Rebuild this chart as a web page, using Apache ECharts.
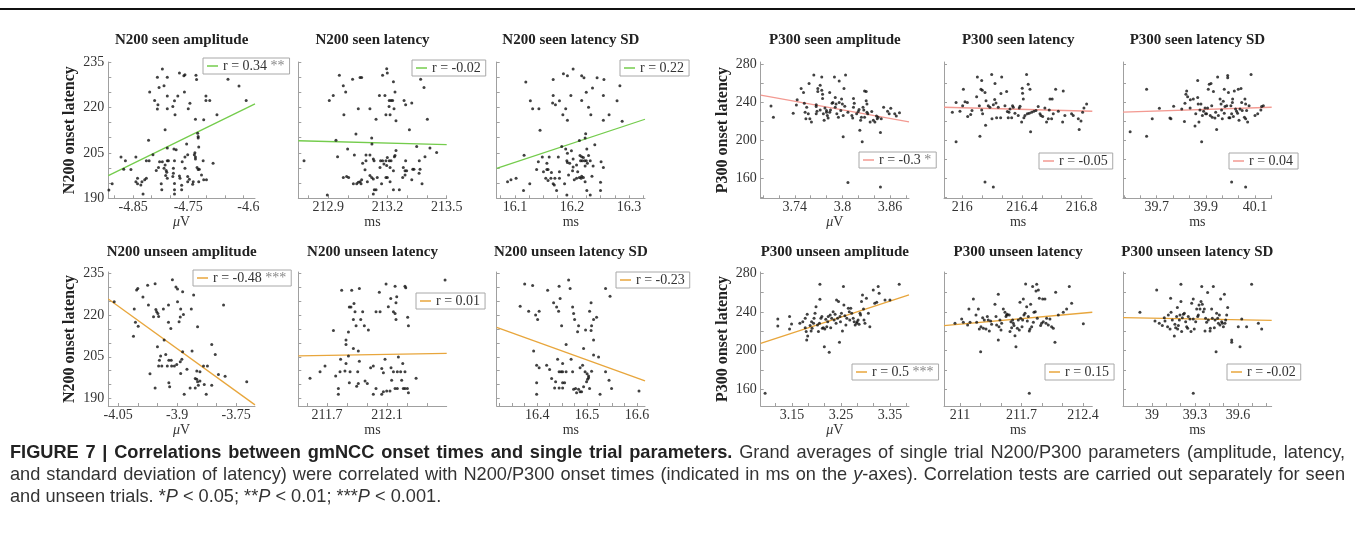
<!DOCTYPE html>
<html>
<head>
<meta charset="utf-8">
<script src="https://cdn.jsdelivr.net/npm/echarts@6/dist/echarts.min.js"></script>
<style>
html, body { margin: 0; padding: 0; background: #fff; }
#chart { width: 1355px; height: 560px; }
</style>
</head>
<body>
<div id="chart"></div>
<script>
// ---- data ----
const n200SeenAmp = [[-4.797,232.7],[-4.806,230.0],[-4.788,230.0],[-4.803,226.6],[-4.794,227.2],[-4.766,231.4],[-4.758,230.5],[-4.756,230.8],[-4.736,230.6],[-4.735,229.2],[-4.820,225.1],[-4.811,222.3],[-4.805,220.9],[-4.806,219.5],[-4.788,223.8],[-4.788,219.6],[-4.778,220.3],[-4.775,222.2],[-4.769,223.8],[-4.774,217.6],[-4.757,225.1],[-4.747,221.4],[-4.750,219.6],[-4.737,216.1],[-4.722,215.9],[-4.718,223.8],[-4.718,222.3],[-4.711,222.3],[-4.698,217.6],[-4.678,229.3],[-4.658,227.1],[-4.645,222.3],[-4.792,212.6],[-4.822,209.2],[-4.788,206.6],[-4.772,206.0],[-4.776,206.3],[-4.753,207.9],[-4.733,211.5],[-4.732,210.4],[-4.732,209.9],[-4.731,206.9],
  [-4.872,203.6],[-4.864,202.4],[-4.867,199.6],[-4.854,199.5],[-4.845,203.6],[-4.842,196.6],[-4.845,195.5],[-4.842,194.8],[-4.836,194.4],[-4.834,195.5],[-4.829,196.1],[-4.826,196.6],[-4.826,202.4],[-4.821,202.4],[-4.814,204.4],[-4.832,191.4],[-4.894,192.7],[-4.888,194.8],[-4.808,199.2],[-4.804,200.2],[-4.802,202.1],[-4.797,202.1],[-4.794,199.9],[-4.792,201.0],[-4.790,199.2],[-4.788,202.4],[-4.786,202.4],[-4.789,198.6],[-4.791,197.5],[-4.788,196.6],[-4.799,194.8],[-4.798,192.8],[-4.775,202.4],[-4.777,199.9],[-4.777,198.3],[-4.778,197.2],[-4.775,192.8],[-4.775,191.4],[-4.766,197.4],[-4.765,196.6],[-4.762,194.3],[-4.762,192.8],[-4.761,202.1],[-4.756,203.6],[-4.751,204.4],[-4.756,199.9],[-4.751,197.2],[-4.748,196.3],[-4.751,195.5],[-4.741,195.5],[-4.742,194.6],[-4.739,204.4],[-4.738,205.0],[-4.737,203.6],[-4.737,203.0],[-4.734,200.2],[-4.732,199.5],[-4.731,195.5],[-4.730,199.6],[-4.726,197.7],[-4.722,196.1],[-4.723,202.4],[-4.717,196.1],[-4.705,201.6],[-4.775,194.9]];
const n200SeenLat = [[212.956,230.6],[212.976,227.2],[212.988,225.1],[212.905,222.3],[212.925,223.9],[213.023,229.3],[213.061,229.9],[213.069,229.9],[212.979,217.6],[213.052,219.6],[213.111,219.6],[213.142,216.1],[213.159,223.9],[213.175,230.6],[213.196,232.8],[213.199,231.4],[213.187,223.9],[213.209,222.3],[213.218,222.3],[213.226,222.3],[213.230,228.5],[213.208,220.3],[213.233,219.6],[213.192,217.6],[213.213,217.6],[213.243,215.6],[213.238,225.1],[213.284,222.3],[213.292,220.9],[213.323,221.5],[213.368,229.3],[213.385,226.6],[213.402,216.1],[213.311,212.6],[213.040,211.2],[213.120,209.9],[212.939,209.2],[212.947,203.7],[212.998,206.3],[213.032,204.3],[213.091,204.3],[213.111,204.3],[213.121,207.9],[213.074,201.6],[213.091,202.4],[213.128,203.0],[213.132,202.4],[213.165,202.4],[213.175,202.4],[213.192,202.4],[213.199,203.5],[213.209,202.4],[213.218,202.4],[213.238,204.1],[213.243,205.8],[213.235,203.7],[212.777,202.4],[213.162,200.2],[213.182,201.3],[213.196,200.8],[213.213,200.2],[213.230,199.1],[213.280,200.2],[213.292,202.4],[213.289,199.1],[213.297,199.1],[213.328,199.6],[213.334,199.6],[213.361,202.4],[213.390,203.7],[213.348,207.1],[213.415,206.6],[213.449,205.1],[213.365,199.6],[213.360,198.3],[212.976,196.9],[212.993,197.2],[213.003,196.9],[213.027,194.8],[213.044,194.8],[213.052,195.3],[213.061,195.5],[213.069,196.1],[213.066,194.8],[213.086,199.4],[213.098,195.5],[213.111,197.5],[213.120,196.9],[213.128,196.4],[213.148,196.9],[213.170,194.8],[213.192,196.9],[213.199,196.9],[213.213,195.5],[213.277,196.9],[213.289,197.7],[213.323,196.1],[213.375,194.8],[212.895,191.1],[213.128,191.4],[213.133,192.8],[213.142,192.8],[213.230,192.8],[213.260,192.8]];
const n200SeenSD = [[16.119,228.4],[16.127,222.2],[16.131,219.6],[16.142,219.6],[16.144,212.5],[16.167,229.2],[16.185,231.1],[16.192,230.5],[16.167,223.9],[16.166,221.5],[16.171,220.9],[16.178,222.2],[16.184,217.6],[16.192,215.8],[16.189,219.6],[16.198,223.9],[16.202,232.7],[16.217,230.5],[16.221,229.8],[16.225,225.0],[16.217,222.3],[16.229,220.1],[16.233,217.6],[16.236,226.4],[16.244,229.8],[16.256,229.2],[16.255,223.9],[16.255,215.8],[16.265,217.6],[16.279,222.2],[16.284,227.2],[16.288,215.4],[16.224,211.3],[16.223,209.9],[16.213,209.1],[16.240,207.7],[16.182,207.1],[16.189,206.3],[16.192,204.9],[16.199,205.7],[16.116,204.2],[16.141,202.1],[16.148,203.6],[16.156,201.6],[16.160,203.6],[16.176,203.6],[16.191,202.4],[16.202,203.0],[16.214,204.1],[16.217,203.7],[16.220,203.5],[16.226,206.3],[16.229,204.1],[16.215,202.4],[16.218,202.4],[16.222,202.4],[16.225,202.4],[16.232,202.4],[16.138,199.5],[16.150,198.8],[16.156,199.5],[16.158,199.5],[16.164,198.5],[16.178,198.8],[16.192,201.8],[16.196,201.6],[16.202,200.3],[16.208,201.0],[16.210,198.8],[16.223,200.7],[16.227,201.6],[16.237,200.7],[16.251,202.1],[16.255,200.2],[16.087,195.5],[16.093,196.1],[16.102,196.6],[16.126,194.8],[16.115,192.6],[16.154,196.6],[16.158,195.9],[16.163,196.6],[16.167,194.8],[16.169,194.4],[16.170,196.6],[16.173,192.6],[16.178,196.6],[16.187,194.8],[16.191,191.1],[16.204,196.1],[16.208,196.6],[16.213,196.9],[16.216,196.6],[16.217,197.3],[16.223,195.5],[16.226,192.6],[16.232,191.1],[16.235,197.3],[16.250,195.3],[16.250,192.6],[16.220,196.9],[16.194,197.7],[16.201,199.1]];
const p300SeenAmp = [[3.710,236.6],[3.713,224.8],[3.738,229.0],[3.742,237.6],[3.743,243.1],[3.748,254.8],[3.751,250.7],[3.752,239.3],[3.755,235.2],[3.753,230.0],[3.754,223.1],[3.758,260.3],[3.761,219.7],[3.764,269.0],[3.767,228.3],[3.767,237.9],[3.767,235.9],[3.768,231.0],[3.769,254.8],[3.769,251.7],[3.772,258.3],[3.774,266.9],[3.774,253.1],[3.775,249.0],[3.775,244.5],[3.776,228.3],[3.777,221.4],[3.778,234.5],[3.780,231.7],[3.781,226.6],[3.782,223.8],[3.784,230.0],[3.785,232.4],[3.787,239.3],[3.788,240.3],[3.790,266.9],[3.791,235.2],[3.791,245.5],[3.792,238.6],[3.793,228.3],[3.795,224.8],[3.796,262.8],[3.796,240.3],[3.798,231.7],[3.799,243.8],[3.800,238.6],[3.801,226.6],[3.802,254.8],[3.803,236.2],[3.804,269.0],[3.801,204.1],[3.807,230.0],[3.812,226.6],[3.813,223.8],[3.814,244.5],[3.815,239.3],[3.818,228.3],[3.820,230.7],[3.821,232.8],[3.822,211.0],[3.823,221.4],[3.824,224.8],[3.825,199.0],[3.826,235.2],[3.827,232.4],[3.828,224.8],[3.828,252.4],[3.830,251.7],[3.830,242.1],[3.831,230.0],[3.831,238.6],[3.832,228.3],[3.835,219.7],[3.837,230.7],[3.839,221.4],[3.841,219.7],[3.844,223.1],[3.845,224.8],[3.848,208.6],[3.849,223.1],[3.852,235.2],[3.857,231.0],[3.859,228.3],[3.861,234.1],[3.866,228.3],[3.868,225.9],[3.872,229.3],[3.807,155.9],[3.848,151.4],[3.843,225.9],[3.814,235.2],[3.784,250.7],[3.780,230.0],[3.772,232.4],[3.759,223.1],[3.757,228.3]];
const p300SeenLat = [[215.933,230.0],[215.958,199.0],[215.958,240.3],[215.984,231.0],[216.002,236.9],[216.007,254.1],[216.018,241.0],[216.034,240.3],[216.036,225.5],[216.056,227.6],[216.065,231.7],[216.096,246.2],[216.101,266.9],[216.114,236.9],[216.118,204.8],[216.125,254.1],[216.130,263.4],[216.130,232.4],[216.136,228.3],[216.152,250.7],[216.156,216.2],[216.159,242.1],[216.174,236.9],[216.185,235.2],[216.197,269.7],[216.199,223.1],[216.208,237.9],[216.217,243.4],[216.219,260.3],[216.226,239.7],[216.230,224.1],[216.241,235.2],[216.257,224.1],[216.259,249.7],[216.264,266.9],[216.286,236.9],[216.297,251.7],[216.302,230.7],[216.308,224.1],[216.313,230.0],[216.320,233.4],[216.331,224.1],[216.337,236.9],[216.342,235.2],[216.353,229.0],[216.375,226.6],[216.382,234.5],[216.387,236.2],[216.398,219.7],[216.402,255.2],[216.404,250.0],[216.409,243.8],[216.413,224.1],[216.420,226.6],[216.431,269.7],[216.436,228.3],[216.442,259.3],[216.449,229.0],[216.454,254.1],[216.458,209.3],[216.465,230.0],[216.480,231.0],[216.494,231.7],[216.509,235.9],[216.521,228.3],[216.527,226.6],[216.539,225.5],[216.554,234.5],[216.565,219.7],[216.577,223.1],[216.583,232.4],[216.588,243.8],[216.599,223.1],[216.603,243.8],[216.610,228.3],[216.626,254.1],[216.644,231.0],[216.673,219.7],[216.677,252.4],[216.688,226.6],[216.733,228.3],[216.744,226.6],[216.778,223.1],[216.784,211.7],[216.796,220.7],[216.807,230.0],[216.816,234.5],[216.834,238.6],[216.152,156.6],[216.208,151.4],[216.134,253.1]];
const p300SeenSD = [[39.592,209.3],[39.659,254.1],[39.659,204.8],[39.682,223.1],[39.711,234.1],[39.754,223.8],[39.758,223.1],[39.769,236.2],[39.802,233.4],[39.813,220.3],[39.815,239.3],[39.819,249.0],[39.822,252.4],[39.826,246.2],[39.836,234.5],[39.837,243.1],[39.849,243.8],[39.856,215.5],[39.859,228.3],[39.867,263.4],[39.867,245.5],[39.869,238.6],[39.872,219.7],[39.876,232.4],[39.880,238.6],[39.883,199.0],[39.886,226.6],[39.891,231.0],[39.897,234.5],[39.899,228.3],[39.903,228.3],[39.907,234.5],[39.910,254.1],[39.914,259.3],[39.918,226.6],[39.921,260.3],[39.924,236.9],[39.926,224.8],[39.931,251.7],[39.937,223.8],[39.940,230.0],[39.944,211.7],[39.948,266.9],[39.951,226.6],[39.958,243.8],[39.962,238.6],[39.964,232.4],[39.967,223.1],[39.971,241.4],[39.975,229.0],[39.978,235.9],[39.985,236.9],[39.989,268.6],[39.989,266.2],[39.992,250.7],[39.994,224.1],[39.998,224.1],[40.002,236.9],[40.005,228.3],[40.008,240.3],[40.009,243.8],[40.012,225.5],[40.016,252.4],[40.021,233.4],[40.025,231.0],[40.029,229.0],[40.032,254.1],[40.035,221.4],[40.039,233.4],[40.043,254.8],[40.046,240.3],[40.048,231.7],[40.057,224.8],[40.059,243.8],[40.062,238.6],[40.062,223.1],[40.066,231.7],[40.070,219.7],[40.076,236.9],[40.084,269.7],[40.100,226.6],[40.111,228.3],[40.124,232.4],[40.127,235.9],[40.134,236.9],[40.005,156.6],[40.062,151.4],[39.975,254.1]];
const n200UnseenAmp = [[-4.060,224.8],[-4.011,212.4],[-4.009,222.2],[-4.006,217.4],[-3.999,216.0],[-4.000,229.6],[-4.003,229.0],[-3.987,226.5],[-3.975,230.7],[-3.973,223.6],[-3.956,231.3],[-3.954,222.0],[-3.952,221.2],[-3.949,220.6],[-3.960,219.4],[-3.947,219.5],[-3.935,222.2],[-3.922,223.6],[-3.922,217.4],[-3.916,215.2],[-3.912,232.7],[-3.903,230.1],[-3.899,229.4],[-3.899,224.8],[-3.895,217.6],[-3.892,219.3],[-3.891,222.2],[-3.884,220.2],[-3.886,228.4],[-3.864,222.2],[-3.858,227.2],[-3.848,215.8],[-3.950,208.6],[-3.933,211.0],[-3.942,205.3],[-3.945,203.8],[-3.947,201.7],[-3.939,201.7],[-3.929,205.8],[-3.925,201.7],[-3.921,203.8],[-3.915,203.8],[-3.914,201.7],[-3.907,201.7],[-3.901,202.2],[-3.892,203.2],[-3.888,204.1],[-3.886,206.8],[-3.875,200.5],[-3.862,207.1],[-3.850,199.9],[-3.854,197.2],[-3.850,196.9],[-3.848,196.0],[-3.842,199.6],[-3.833,201.7],[-3.823,201.7],[-3.812,209.4],[-3.803,205.8],[-3.795,198.6],[-3.778,198.0],[-3.782,223.6],[-3.723,196.0],[-3.969,198.9],[-3.956,193.8],[-3.921,195.7],[-3.919,194.2],[-3.891,199.0],[-3.882,191.5],[-3.867,193.8],[-3.854,193.8],[-3.846,194.8],[-3.842,196.3],[-3.831,195.0],[-3.812,194.8],[-3.826,191.5]];
const n200UnseenLat = [[212.487,232.6],[211.798,228.9],[211.865,228.9],[211.916,229.6],[212.049,228.2],[212.094,231.2],[212.154,230.4],[212.220,230.4],[212.225,229.8],[212.125,226.0],[212.165,226.6],[212.160,224.4],[211.849,222.9],[211.860,222.9],[211.880,224.2],[211.887,221.2],[211.938,221.2],[212.027,221.2],[212.054,221.2],[212.109,223.0],[212.143,221.2],[212.154,220.6],[212.160,218.4],[211.876,218.4],[211.925,218.4],[211.894,216.2],[211.949,216.2],[211.976,214.6],[211.743,214.5],[211.843,213.9],[212.238,219.2],[212.243,216.2],[211.827,211.0],[211.827,209.4],[211.876,208.0],[211.909,207.1],[211.843,205.3],[211.791,204.1],[211.827,202.6],[211.687,201.7],[211.654,199.6],[211.758,198.1],[211.787,199.6],[211.820,199.9],[211.854,199.6],[211.905,199.6],[211.916,203.4],[211.991,201.1],[212.009,201.7],[212.087,204.1],[212.065,200.8],[212.076,199.3],[212.127,201.1],[212.143,199.6],[212.169,199.6],[212.191,199.6],[212.220,199.6],[212.176,204.9],[212.205,202.6],[212.294,197.3],[211.587,197.3],[211.849,195.7],[211.898,194.4],[211.909,195.4],[211.954,196.3],[211.969,195.4],[211.776,193.6],[212.027,193.6],[212.065,191.5],[212.076,192.4],[212.098,192.7],[212.120,192.7],[212.131,196.6],[212.154,193.6],[212.169,193.6],[212.198,196.6],[212.209,193.6],[212.220,193.6],[212.236,193.6],[212.243,192.1],[211.776,191.5],[212.009,191.5]];
const n200UnseenSD = [[16.375,231.2],[16.391,230.6],[16.366,223.2],[16.383,221.4],[16.397,220.0],[16.404,221.4],[16.401,218.4],[16.421,228.9],[16.433,224.4],[16.439,222.9],[16.443,221.4],[16.444,230.4],[16.446,226.0],[16.449,216.2],[16.463,232.6],[16.466,229.6],[16.471,222.9],[16.473,220.6],[16.475,218.4],[16.483,216.2],[16.481,214.0],[16.497,214.6],[16.508,224.4],[16.505,221.4],[16.508,214.5],[16.509,216.2],[16.513,218.4],[16.519,219.2],[16.513,211.0],[16.537,229.6],[16.546,226.8],[16.458,209.4],[16.493,208.0],[16.393,207.1],[16.399,202.0],[16.404,201.1],[16.419,202.0],[16.425,200.4],[16.441,204.1],[16.444,199.6],[16.448,199.6],[16.451,199.6],[16.458,199.6],[16.471,199.6],[16.451,202.6],[16.468,204.1],[16.486,201.1],[16.491,202.0],[16.496,199.6],[16.500,198.9],[16.503,198.1],[16.503,197.5],[16.509,199.8],[16.513,205.6],[16.523,204.9],[16.537,199.6],[16.544,196.6],[16.429,197.2],[16.437,196.0],[16.451,195.7],[16.455,195.7],[16.435,193.8],[16.444,193.8],[16.451,193.8],[16.473,193.3],[16.477,193.6],[16.486,192.4],[16.489,192.4],[16.493,194.2],[16.499,196.0],[16.501,196.9],[16.505,193.6],[16.549,193.6],[16.604,192.7],[16.399,195.7],[16.483,193.3],[16.479,192.1],[16.526,191.5],[16.399,191.5]];
const p300UnseenAmp = [[3.121,232.8],[3.121,225.5],[3.145,235.2],[3.145,222.4],[3.149,227.6],[3.166,228.3],[3.172,230.0],[3.177,233.4],[3.177,223.8],[3.179,219.7],[3.180,211.0],[3.181,237.6],[3.182,215.2],[3.187,225.9],[3.189,220.3],[3.190,230.0],[3.191,223.1],[3.194,228.3],[3.195,233.4],[3.197,238.6],[3.199,245.5],[3.202,226.6],[3.204,219.7],[3.206,228.3],[3.207,268.6],[3.207,253.1],[3.209,233.4],[3.211,235.2],[3.212,223.1],[3.214,223.8],[3.216,204.1],[3.217,222.4],[3.219,232.4],[3.221,224.8],[3.223,230.0],[3.224,235.2],[3.226,198.3],[3.228,236.9],[3.229,223.8],[3.231,233.4],[3.234,240.3],[3.236,231.7],[3.238,237.6],[3.240,228.3],[3.241,252.4],[3.243,233.4],[3.245,250.7],[3.247,208.6],[3.248,235.2],[3.249,230.0],[3.251,238.6],[3.253,220.3],[3.255,266.2],[3.256,247.2],[3.258,236.2],[3.260,226.6],[3.262,233.4],[3.265,243.8],[3.267,240.3],[3.268,231.7],[3.270,243.8],[3.272,238.6],[3.275,233.4],[3.277,230.0],[3.279,226.6],[3.282,228.3],[3.283,230.0],[3.285,231.7],[3.287,227.2],[3.289,238.6],[3.290,236.9],[3.292,250.7],[3.294,257.6],[3.296,243.1],[3.297,231.7],[3.299,228.3],[3.302,254.1],[3.306,238.6],[3.309,224.8],[3.316,262.8],[3.319,249.0],[3.323,250.0],[3.326,266.2],[3.328,259.3],[3.340,252.4],[3.350,252.4],[3.369,268.6],[3.095,155.9]];
const p300UnseenLat = [[210.943,228.3],[211.019,232.8],[211.038,229.3],[211.087,226.6],[211.102,243.1],[211.114,229.3],[211.152,253.4],[211.182,236.9],[211.190,229.3],[211.209,243.1],[211.220,222.4],[211.235,199.0],[211.239,224.8],[211.258,234.1],[211.266,223.1],[211.277,231.7],[211.296,222.4],[211.311,235.2],[211.322,231.7],[211.334,220.3],[211.349,230.7],[211.360,227.2],[211.398,247.9],[211.410,235.2],[211.417,226.6],[211.436,258.3],[211.436,211.0],[211.444,224.8],[211.455,231.7],[211.467,221.4],[211.474,228.3],[211.493,243.1],[211.512,239.7],[211.524,235.2],[211.531,236.9],[211.539,237.6],[211.561,236.9],[211.569,219.7],[211.580,230.0],[211.588,223.8],[211.599,231.7],[211.607,228.3],[211.615,225.9],[211.626,215.5],[211.637,204.1],[211.653,223.1],[211.664,231.7],[211.675,221.4],[211.683,250.0],[211.690,233.4],[211.706,224.8],[211.713,231.7],[211.721,253.4],[211.728,236.9],[211.740,238.6],[211.747,269.0],[211.759,245.5],[211.766,230.7],[211.778,235.2],[211.789,220.3],[211.797,222.4],[211.804,247.9],[211.816,224.8],[211.827,266.2],[211.835,229.3],[211.842,239.7],[211.857,240.3],[211.865,261.7],[211.873,268.6],[211.880,233.4],[211.892,262.8],[211.903,254.1],[211.918,225.9],[211.929,228.3],[211.941,253.4],[211.948,230.0],[211.967,253.4],[211.979,228.3],[211.986,233.4],[212.005,226.6],[212.024,232.8],[212.043,224.8],[212.062,223.1],[212.081,208.6],[212.089,260.3],[212.119,236.9],[212.176,239.7],[212.214,243.1],[212.244,266.2],[212.271,249.0],[212.404,227.9],[211.789,155.9]];
const p300UnseenSD = [[38.916,239.7],[39.033,262.8],[39.021,230.7],[39.051,228.3],[39.072,225.9],[39.086,234.1],[39.091,230.7],[39.109,224.8],[39.114,236.9],[39.126,222.4],[39.130,254.1],[39.133,239.7],[39.142,231.7],[39.156,215.2],[39.160,227.2],[39.165,223.8],[39.172,235.2],[39.177,244.5],[39.179,222.4],[39.184,225.9],[39.191,231.7],[39.195,236.9],[39.202,250.7],[39.202,268.6],[39.207,219.7],[39.212,234.1],[39.219,237.6],[39.226,238.6],[39.235,230.0],[39.242,224.8],[39.249,223.1],[39.253,235.2],[39.265,232.8],[39.272,219.7],[39.277,249.0],[39.288,253.4],[39.288,232.8],[39.295,222.4],[39.305,230.0],[39.312,243.1],[39.319,235.2],[39.323,236.9],[39.335,243.1],[39.342,250.7],[39.347,266.2],[39.351,247.9],[39.358,240.3],[39.365,243.1],[39.370,220.3],[39.374,233.4],[39.381,229.3],[39.388,260.0],[39.393,231.7],[39.405,220.3],[39.407,223.1],[39.416,243.1],[39.421,233.4],[39.428,266.2],[39.435,223.8],[39.440,231.7],[39.447,199.0],[39.451,238.6],[39.458,233.4],[39.463,228.3],[39.470,236.9],[39.474,226.6],[39.479,253.4],[39.486,230.0],[39.491,228.3],[39.498,224.8],[39.505,258.3],[39.509,228.3],[39.514,231.7],[39.521,236.9],[39.528,244.5],[39.556,211.0],[39.556,208.6],[39.602,224.8],[39.614,204.1],[39.626,232.8],[39.660,224.8],[39.695,268.6],[39.742,228.3],[39.765,222.4],[39.288,155.9],[39.328,247.2]];

// regression lines (end points)
const fits = [
  [[-4.895,197.5],[-4.629,221.2]],
  [[212.748,209.0],[213.5,207.7]],
  [[16.068,199.9],[16.328,216.1]],
  [[3.697,247.9],[3.884,219.7]],
  [[215.877,235.2],[216.872,231.0]],
  [[39.563,230.0],[40.168,235.2]],
  [[-4.075,225.8],[-3.702,187.7]],
  [[211.509,205.3],[212.498,206.2]],
  [[16.319,215.6],[16.616,196.3]],
  [[3.086,207.6],[3.389,257.6]],
  [[210.818,225.9],[212.506,239.7]],
  [[38.798,234.1],[39.835,231.4]]
];
const titles = ['N200 seen amplitude','N200 seen latency','N200 seen latency SD','P300 seen amplitude','P300 seen latency','P300 seen latency SD',
  'N200 unseen amplitude','N200 unseen latency','N200 unseen latency SD','P300 unseen amplitude','P300 unseen latency','P300 unseen latency SD'];
const rTexts = ['r = 0.34 **','r = -0.02','r = 0.22','r = -0.3 *','r = -0.05','r = 0.04','r = -0.48 ***','r = 0.01','r = -0.23','r = 0.5 ***','r = 0.15','r = -0.02'];
const units = ['μV','ms','ms','μV','ms','ms','μV','ms','ms','μV','ms','ms'];
const xTickVals = [[-4.85,-4.75,-4.641],[212.9,213.2,213.5],[16.1,16.2,16.3],[3.74,3.8,3.86],[216,216.4,216.8],[39.7,39.9,40.1],
  [-4.05,-3.9,-3.75],[211.7,212.1,212.5],[16.4,16.5,16.6],[3.15,3.25,3.35],[211,211.7,212.4],[39,39.3,39.6]];
const xTickText = [['-4.85','-4.75','-4.6'],['212.9','213.2','213.5'],['16.1','16.2','16.3'],['3.74','3.8','3.86'],['216','216.4','216.8'],['39.7','39.9','40.1'],
  ['-4.05','-3.9','-3.75'],['211.7','212.1','212.5'],['16.4','16.5','16.6'],['3.15','3.25','3.35'],['211','211.7','212.4'],['39','39.3','39.6']];
const xRange = [[-4.895,-4.629],[212.748,213.5],[16.068,16.328],[3.697,3.884],[215.877,216.872],[39.563,40.168],
  [-4.075,-3.702],[211.509,212.498],[16.319,16.616],[3.086,3.389],[210.818,212.506],[38.798,39.835]];
const n200Ticks = [190,195,200,205,210,215,220,225,230,235];
const n200Labels = [190,205,220,235];
const p300Ticks = [140,160,180,200,220,240,260,280];
const p300Labels = [160,200,240,280];
const yRangeTop = { N200: [190, 235], P300: [139.4, 282.8] };
const yRangeBottom = { N200: [187.3, 235.5], P300: [142.8, 281.3] };
const pts = [n200SeenAmp, n200SeenLat, n200SeenSD, p300SeenAmp, p300SeenLat, p300SeenSD,
  n200UnseenAmp, n200UnseenLat, n200UnseenSD, p300UnseenAmp, p300UnseenLat, p300UnseenSD];

// caption text runs: b = bold, n = normal, i = italic
const captionRuns = [
  [['b', 'FIGURE 7 | Correlations between gmNCC onset times and single trial parameters.'], ['n', ' Grand averages of single trial N200/P300 parameters (amplitude, latency,']],
  [['n', 'and standard deviation of latency) were correlated with N200/P300 onset times (indicated in ms on the '], ['i', 'y'], ['n', '-axes). Correlation tests are carried out separately for seen']],
  [['n', 'and unseen trials. *'], ['i', 'P'], ['n', ' < 0.05; **'], ['i', 'P'], ['n', ' < 0.01; ***'], ['i', 'P'], ['n', ' < 0.001.']]
];

// ---- layout / style ----
const GREEN = '#74cc4c', RED = '#f39a92', ORANGE = '#e8a63c';
const AXIS = '#a0a0a0';
const SERIF = '"Liberation Serif", "DejaVu Serif", serif';
const SANS = '"Liberation Sans", Arial, sans-serif';
const colLeft = [108.3, 298.3, 496.7, 760.7, 944, 1123];
const colRight = [255, 446.7, 645, 909, 1092.3, 1271.7];
const rowTop = [62, 272];
const rowBottom = [198.3, 406];
const titleY = [40, 252];
const legendPos = [[203,58],[412,60],[620,60],[859,152],[1039,153],[1229,153],
  [193,270],[416,293],[616,272],[852,364],[1045,364],[1227,364]];

const chart = echarts.init(document.getElementById('chart'), null, { renderer: 'canvas' });

const grid = [], xAxis = [], yAxis = [], series = [], legend = [], graphic = [];

function subTicks(vals, n, lo, hi) {
  // minor ticks between the labelled ones
  const out = [];
  const step = (vals[1] - vals[0]) / n;
  for (let v = vals[0]; v >= lo - 1e-9; v -= step) out.push(v);
  for (let v = vals[0] + step; v <= hi + 1e-9; v += step) out.push(v);
  return out;
}

for (let i = 0; i < 12; i++) {
  const row = i < 6 ? 0 : 1;
  const col = i % 6;
  const kind = col < 3 ? 'N200' : 'P300';
  const yr = row === 0 ? yRangeTop[kind] : yRangeBottom[kind];
  const color = row === 1 ? ORANGE : (kind === 'N200' ? GREEN : RED);
  const showYLabel = col === 0 || col === 3;

  grid.push({
    left: colLeft[col], top: rowTop[row],
    width: colRight[col] - colLeft[col], height: rowBottom[row] - rowTop[row]
  });

  const xv = xTickVals[i], xt = xTickText[i];
  const nSub = (col === 2) ? 4 : 3;
  xAxis.push({
    gridIndex: i, type: 'value', min: xRange[i][0], max: xRange[i][1],
    axisLine: { show: true, lineStyle: { color: AXIS, width: 1 } },
    axisTick: { show: true, inside: true, length: 3, lineStyle: { color: AXIS },
      customValues: subTicks(xv, nSub, xRange[i][0], xRange[i][1]) },
    axisLabel: {
      customValues: xv, margin: 2, color: '#333', fontFamily: SERIF, fontSize: 14,
      formatter: v => { const k = xv.findIndex(a => Math.abs(a - v) < 1e-6); return k >= 0 ? xt[k] : ''; }
    },
    splitLine: { show: false },
    name: units[i] === 'μV' ? '{i|μ}V' : 'ms', nameLocation: 'middle', nameGap: 16,
    nameTextStyle: { color: '#333', fontFamily: SERIF, fontSize: 14, rich: { i: { fontStyle: 'italic', fontFamily: SERIF, fontSize: 14, color: '#333' } } }
  });

  yAxis.push({
    gridIndex: i, type: 'value', min: yr[0], max: yr[1],
    axisLine: { show: true, lineStyle: { color: AXIS, width: 1 } },
    axisTick: { show: true, inside: true, length: 3, lineStyle: { color: AXIS },
      customValues: (kind === 'N200' ? n200Ticks : p300Ticks).filter(v => v >= yr[0] && v <= yr[1]) },
    axisLabel: { show: showYLabel, customValues: kind === 'N200' ? n200Labels : p300Labels,
      margin: 4, color: '#333', fontFamily: SERIF, fontSize: 14 },
    splitLine: { show: false },
    name: showYLabel ? kind + ' onset latency' : '', nameLocation: 'middle', nameGap: 30,
    nameTextStyle: { color: '#222', fontFamily: SERIF, fontSize: 16, fontWeight: 'bold' }
  });

  series.push({
    type: 'scatter', name: 'pts' + i, xAxisIndex: i, yAxisIndex: i,
    data: pts[i], symbolSize: 3, itemStyle: { color: '#111' }, silent: true, z: 3
  });
  series.push({
    type: 'line', name: rTexts[i], xAxisIndex: i, yAxisIndex: i,
    data: fits[i], showSymbol: false, lineStyle: { color: color, width: 1.3 },
    itemStyle: { color: color }, silent: true, z: 2
  });

  legend.push({
    data: [{ name: rTexts[i], icon: 'rect', itemStyle: { color: color } }],
    left: legendPos[i][0], top: legendPos[i][1], selectedMode: false,
    itemWidth: 11, itemHeight: 1.5, itemGap: 5,
    padding: [1, 5, 1, 4], backgroundColor: '#fff', borderColor: '#a8a8a8', borderWidth: 1,
    formatter: name => {
      const m = name.match(/^(r = \S+)( \*+)?$/);
      return m && m[2] ? '{t|' + m[1] + '}{s|' + m[2] + '}' : '{t|' + name + '}';
    },
    textStyle: { rich: {
      t: { fontFamily: SERIF, fontSize: 14, color: '#333' },
      s: { fontFamily: SERIF, fontSize: 14, color: '#888' }
    } }
  });

  graphic.push({
    type: 'text',
    x: (colLeft[col] + colRight[col]) / 2, y: titleY[row],
    style: { text: titles[i], fill: '#222', font: 'bold 15px ' + SERIF, textAlign: 'center', textVerticalAlign: 'middle' }
  });
}

// frame line on top
graphic.push({ type: 'rect', shape: { x: 0, y: 8, width: 1355, height: 2 }, style: { fill: '#111' } });

// caption, justified like the journal layout
const capSize = 18.2;
const capFonts = {
  b: 'bold ' + capSize + 'px ' + SANS,
  n: capSize + 'px ' + SANS,
  i: 'italic ' + capSize + 'px ' + SANS
};
const capFill = { b: '#222', n: '#333', i: '#333' };
const capLeft = 10, capRight = 1345;
const capY = [453, 475, 497];
const mctx = document.createElement('canvas').getContext('2d');
function measure(font, s) { mctx.font = font; return mctx.measureText(s).width; }

captionRuns.forEach((runs, k) => {
  // split the runs into words, a word may hold pieces of several styles
  const words = [];
  let cur = [];
  runs.forEach(([st, txt]) => {
    let buf = '';
    for (const ch of txt) {
      if (ch === ' ') {
        if (buf) { cur.push([st, buf]); buf = ''; }
        if (cur.length) { words.push(cur); cur = []; }
      } else buf += ch;
    }
    if (buf) cur.push([st, buf]);
  });
  if (cur.length) words.push(cur);
  const widths = words.map(w => w.reduce((s, [st, t]) => s + measure(capFonts[st], t), 0));
  const total = widths.reduce((a, b) => a + b, 0);
  const justify = k < captionRuns.length - 1;
  const gap = justify ? (capRight - capLeft - total) / (words.length - 1) : measure(capFonts.n, ' ');
  let x = capLeft;
  words.forEach((w, j) => {
    let px = x;
    w.forEach(([st, t]) => {
      graphic.push({ type: 'text', x: px, y: capY[k],
        style: { text: t, font: capFonts[st], fill: capFill[st], textVerticalAlign: 'middle' } });
      px += measure(capFonts[st], t);
    });
    x += widths[j] + gap;
  });
});

chart.setOption({
  animation: false,
  backgroundColor: '#fff',
  grid, xAxis, yAxis, series, legend, graphic
});
</script>
</body>
</html>
